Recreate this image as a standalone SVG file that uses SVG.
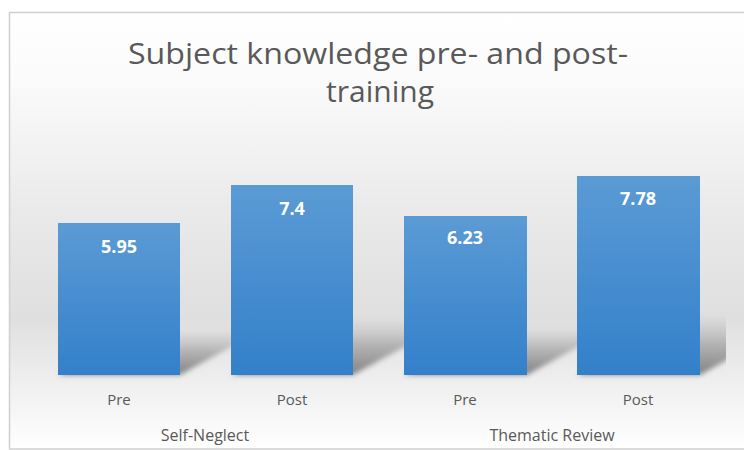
<svg xmlns="http://www.w3.org/2000/svg" width="744" height="450" viewBox="0 0 744 450">
  <defs>
    <linearGradient id="bg" x1="0" y1="12" x2="0" y2="449" gradientUnits="userSpaceOnUse">
      <stop offset="0" stop-color="#ffffff"/>
      <stop offset="0.15" stop-color="#fbfbfb"/>
      <stop offset="0.45" stop-color="#eaeaea"/>
      <stop offset="0.7" stop-color="#dfdfdf"/>
      <stop offset="0.85" stop-color="#efefef"/>
      <stop offset="1" stop-color="#ffffff"/>
    </linearGradient>
    <linearGradient id="barFill" x1="0" y1="0" x2="0" y2="1">
      <stop offset="0" stop-color="#5b9bd5"/>
      <stop offset="1" stop-color="#3380ca"/>
    </linearGradient>
    <linearGradient id="shadowFill" x1="0" y1="1" x2="0" y2="0">
      <stop offset="0" stop-color="#666666" stop-opacity="0.8"/>
      <stop offset="0.5" stop-color="#707070" stop-opacity="0.45"/>
      <stop offset="1" stop-color="#888888" stop-opacity="0"/>
    </linearGradient>
    <filter id="blur" x="-20%" y="-40%" width="140%" height="180%">
      <feGaussianBlur stdDeviation="2.5"/>
    </filter>
    <clipPath id="plotClip">
      <rect x="10" y="13" width="716" height="436"/>
    </clipPath>
  </defs>
  <style>
    .title { font-family: "Open Sans", "Liberation Sans", sans-serif; font-size: 30px; fill: #595959; text-anchor: middle; }
    .val { font-family: "Open Sans", "Liberation Sans", sans-serif; font-size: 18px; font-weight: bold; fill: #ffffff; text-anchor: middle; }
    .cat { font-family: "Open Sans", "Liberation Sans", sans-serif; font-size: 15px; fill: #595959; text-anchor: middle; }
    .grp { font-family: "Open Sans", "Liberation Sans", sans-serif; font-size: 16px; fill: #595959; text-anchor: middle; }
    .bar { fill: url(#barFill); }
    .shadow { fill: url(#shadowFill); filter: url(#blur); }
  </style>

  <rect x="0" y="0" width="744" height="450" fill="#ffffff"/>
  <rect id="chart-area" x="9.5" y="12.5" width="740" height="436.5" fill="url(#bg)" stroke="#d0d0d0" stroke-width="1.5"/>

  <g id="title">
    <text class="title" x="378" y="64" textLength="500" lengthAdjust="spacingAndGlyphs">Subject knowledge pre- and post-</text>
    <text class="title" x="380" y="102">training</text>
  </g>

  <g id="shadows" clip-path="url(#plotClip)">
    <polygon class="shadow" points="58,375 180,375 263,329 141,329"/>
    <polygon class="shadow" points="231,375 353,375 457,318 335,318"/>
    <polygon class="shadow" points="404,375 527,375 614,327 491,327"/>
    <polygon class="shadow" points="577,375 700,375 809,315 686,315"/>
  </g>

  <g id="bar-selfneglect-pre">
    <rect class="bar" x="58" y="223" width="122" height="152"/>
    <text class="val" x="119" y="253">5.95</text>
    <text class="cat" x="119" y="405">Pre</text>
  </g>
  <g id="bar-selfneglect-post">
    <rect class="bar" x="231" y="185" width="122" height="190"/>
    <text class="val" x="292" y="215">7.4</text>
    <text class="cat" x="292" y="405">Post</text>
  </g>
  <g id="bar-thematic-pre">
    <rect class="bar" x="404" y="216" width="123" height="159"/>
    <text class="val" x="465" y="244">6.23</text>
    <text class="cat" x="465" y="405">Pre</text>
  </g>
  <g id="bar-thematic-post">
    <rect class="bar" x="577" y="176" width="123" height="199"/>
    <text class="val" x="638" y="205">7.78</text>
    <text class="cat" x="638" y="405">Post</text>
  </g>

  <g id="group-labels">
    <text class="grp" x="205" y="441">Self-Neglect</text>
    <text class="grp" x="552" y="441">Thematic Review</text>
  </g>
</svg>
